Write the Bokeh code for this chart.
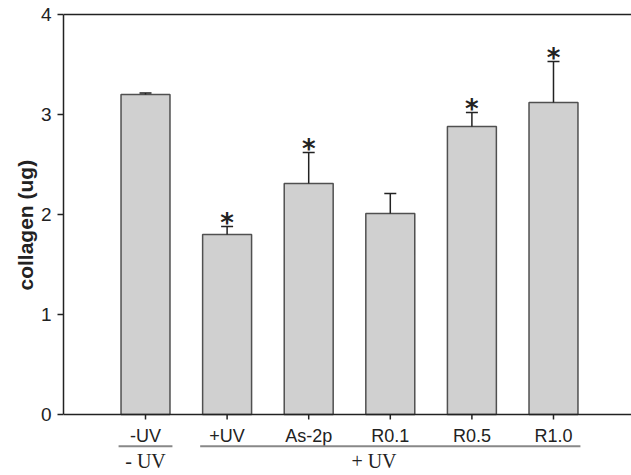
from bokeh.plotting import figure
from bokeh.models import Range1d, FixedTicker, Span, Title
from bokeh.core.properties import value
from bokeh.embed import file_html
from bokeh.resources import INLINE

# ---- data ----
categories = ["-UV", "+UV", "As-2p", "R0.1", "R0.5", "R1.0"]
means = [3.20, 1.80, 2.31, 2.01, 2.88, 3.12]
errors = [0.015, 0.08, 0.31, 0.20, 0.14, 0.41]
significant = [False, True, True, False, True, True]
groups = ["- UV", "+ UV"]
group_first = [1, 2]
group_last = [1, 6]
y_ticks = [0, 1, 2, 3, 4]
y_label = "collagen (ug)"

# ---- layout constants ----
group_label_x = [1.0, 3.8]
GROUP_PAD = 0.33
CAP_HALF = 0.0735
DARK = "#222222"

xpos = list(range(1, len(categories) + 1))
tops = [m + e for m, e in zip(means, errors)]

p = figure(width=631, height=475, output_backend="svg", toolbar_location=None,
           x_range=Range1d(-0.005, 6.956), y_range=Range1d(-0.61, 4.02),
           min_border_left=63, min_border_right=0, min_border_top=12,
           min_border_bottom=0, x_axis_location=None)
p.outline_line_color = None
p.grid.grid_line_color = None
p.background_fill_color = "white"

ax = p.yaxis[0]
ax.ticker = FixedTicker(ticks=y_ticks)
ax.bounds = (0, 4)
ax.major_tick_out = 6
ax.major_tick_in = 0
ax.minor_tick_out = 0
ax.minor_tick_in = 0
ax.axis_line_color = DARK
ax.axis_line_width = 1.5
ax.major_tick_line_color = DARK
ax.major_tick_line_width = 1.5
ax.major_label_text_font = "Liberation Sans"
ax.major_label_text_font_size = "19px"
ax.major_label_text_color = DARK
ax.major_label_standoff = 6

p.add_layout(Title(text=y_label, align="left", offset=185, standoff=2,
                   text_font="Liberation Sans", text_font_style="bold",
                   text_font_size="21px", text_color=DARK), "left")

# frame lines
p.add_layout(Span(location=0, dimension="width", line_color=DARK, line_width=1.5))
p.add_layout(Span(location=4, dimension="width", line_color=DARK, line_width=1.5))

# bars
p.vbar(x=xpos, top=means, bottom=0, width=0.6, fill_color="#d0d0d0",
       line_color="#505050", line_width=1.5)

# error bars (upper only)
p.segment(x0=xpos, y0=means, x1=xpos, y1=tops, line_color=DARK, line_width=1.5)
p.segment(x0=[x - CAP_HALF for x in xpos], y0=tops,
          x1=[x + CAP_HALF for x in xpos], y1=tops, line_color=DARK, line_width=1.5)

# significance asterisks
sig_x = [x for x, s in zip(xpos, significant) if s]
sig_y = [t for t, s in zip(tops, significant) if s]
p.text(x=sig_x, y=sig_y, text=["*"] * len(sig_x), text_font=value("DejaVu Sans"),
       text_font_style="bold", text_font_size="26px", text_align="center",
       text_baseline="alphabetic", y_offset=-4, text_color=DARK)

# x ticks and labels
p.segment(x0=xpos, y0=[0] * len(xpos), x1=xpos, y1=[-0.05] * len(xpos),
          line_color=DARK, line_width=1.5)
p.text(x=xpos, y=[-0.21] * len(xpos), text=categories,
       text_font=value("Liberation Sans"), text_font_size="18px",
       text_align="center", text_baseline="middle", text_color=DARK)

# group lines and labels
p.segment(x0=[f - GROUP_PAD for f in group_first], y0=[-0.317] * len(groups),
          x1=[l + GROUP_PAD for l in group_last], y1=[-0.317] * len(groups),
          line_color="#888888", line_width=2)
p.text(x=group_label_x, y=[-0.46] * len(groups), text=groups,
       text_font=value("Liberation Serif"), text_font_size="20px",
       text_align="center", text_baseline="middle", text_color=DARK)

open("out.html", "w").write(file_html(p, INLINE))
